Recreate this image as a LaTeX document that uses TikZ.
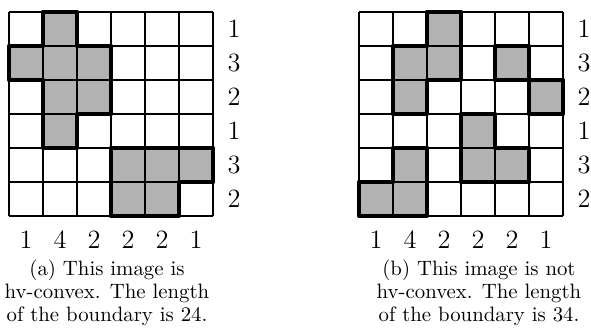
\documentclass[tikz,border=0pt]{standalone}
\begin{document}
\begin{tikzpicture}[
  cellfill/.style={fill=black!30},
  gridline/.style={line width=0.6pt},
  outline/.style={line width=2.4pt, line join=round},
  sumlabel/.style={font=\fontsize{13.2}{15}\selectfont, inner sep=0pt},
  captiontext/.style={font=\fontsize{10.4}{11.4}\selectfont, align=center, inner sep=0pt, anchor=north}
]
\useasboundingbox (0,0) rectangle (295.5pt,-165.5pt);
% ---------- (a) ----------
\begin{scope}[shift={(4.5pt,-6pt)}, x=17pt, y=-17pt]
  \fill[cellfill] (1,0) -- (2,0) -- (2,1) -- (3,1) -- (3,3) -- (2,3) -- (2,4) -- (1,4) -- (1,2) -- (0,2) -- (0,1) -- (1,1) -- cycle;
  \fill[cellfill] (3,4) -- (6,4) -- (6,5) -- (5,5) -- (5,6) -- (3,6) -- cycle;
  \foreach \i in {0,...,6} {
    \draw[gridline] (\i,0) -- (\i,6);
    \draw[gridline] (0,\i) -- (6,\i);
  }
  \draw[outline] (1,0) -- (2,0) -- (2,1) -- (3,1) -- (3,3) -- (2,3) -- (2,4) -- (1,4) -- (1,2) -- (0,2) -- (0,1) -- (1,1) -- cycle;
  \draw[outline] (3,4) -- (6,4) -- (6,5) -- (5,5) -- (5,6) -- (3,6) -- cycle;
  \node[sumlabel] (ar1) at (6.62,0.5) {1};
  \node[sumlabel] (ar2) at (6.62,1.5) {3};
  \node[sumlabel] (ar3) at (6.62,2.5) {2};
  \node[sumlabel] (ar4) at (6.62,3.5) {1};
  \node[sumlabel] (ar5) at (6.62,4.5) {3};
  \node[sumlabel] (ar6) at (6.62,5.5) {2};
  \node[sumlabel] (ac1) at (0.5,6.7) {1};
  \node[sumlabel] (ac2) at (1.5,6.7) {4};
  \node[sumlabel] (ac3) at (2.5,6.7) {2};
  \node[sumlabel] (ac4) at (3.5,6.7) {2};
  \node[sumlabel] (ac5) at (4.5,6.7) {2};
  \node[sumlabel] (ac6) at (5.5,6.7) {1};
\end{scope}
\node[captiontext] (capa) at (53.5pt,-130pt) {(a) This image is\\hv-convex. The length\\of the boundary is 24.};
% ---------- (b) ----------
\begin{scope}[shift={(179.5pt,-6pt)}, x=17pt, y=-17pt]
  \fill[cellfill] (2,0) -- (3,0) -- (3,2) -- (2,2) -- (2,3) -- (1,3) -- (1,1) -- (2,1) -- cycle;
  \fill[cellfill] (4,1) rectangle (5,2);
  \fill[cellfill] (5,2) rectangle (6,3);
  \fill[cellfill] (3,3) -- (4,3) -- (4,4) -- (5,4) -- (5,5) -- (3,5) -- cycle;
  \fill[cellfill] (1,4) -- (2,4) -- (2,6) -- (0,6) -- (0,5) -- (1,5) -- cycle;
  \foreach \i in {0,...,6} {
    \draw[gridline] (\i,0) -- (\i,6);
    \draw[gridline] (0,\i) -- (6,\i);
  }
  \draw[outline] (2,0) -- (3,0) -- (3,2) -- (2,2) -- (2,3) -- (1,3) -- (1,1) -- (2,1) -- cycle;
  \draw[outline] (4,1) rectangle (5,2);
  \draw[outline] (5,2) rectangle (6,3);
  \draw[outline] (3,3) -- (4,3) -- (4,4) -- (5,4) -- (5,5) -- (3,5) -- cycle;
  \draw[outline] (1,4) -- (2,4) -- (2,6) -- (0,6) -- (0,5) -- (1,5) -- cycle;
  \node[sumlabel] (br1) at (6.62,0.5) {1};
  \node[sumlabel] (br2) at (6.62,1.5) {3};
  \node[sumlabel] (br3) at (6.62,2.5) {2};
  \node[sumlabel] (br4) at (6.62,3.5) {1};
  \node[sumlabel] (br5) at (6.62,4.5) {3};
  \node[sumlabel] (br6) at (6.62,5.5) {2};
  \node[sumlabel] (bc1) at (0.5,6.7) {1};
  \node[sumlabel] (bc2) at (1.5,6.7) {4};
  \node[sumlabel] (bc3) at (2.5,6.7) {2};
  \node[sumlabel] (bc4) at (3.5,6.7) {2};
  \node[sumlabel] (bc5) at (4.5,6.7) {2};
  \node[sumlabel] (bc6) at (5.5,6.7) {1};
\end{scope}
\node[captiontext] (capb) at (239.5pt,-130pt) {(b) This image is not\\hv-convex. The length\\of the boundary is 34.};
\end{tikzpicture}
\end{document}
